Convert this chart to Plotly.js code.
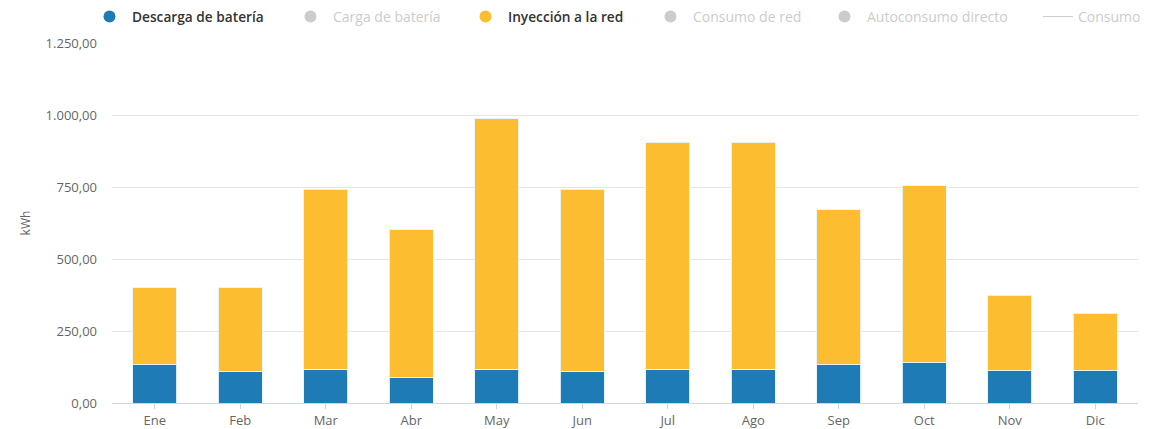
<!DOCTYPE html>
<html>
<head>
<meta charset="utf-8">
<script src="https://cdn.plot.ly/plotly-3.0.1.min.js"></script>
<style>html,body{margin:0;padding:0;background:#fff;}#chart{width:1156px;height:429px;}</style>
</head>
<body>
<div id="chart"></div>
<script>
const months = ["Ene","Feb","Mar","Abr","May","Jun","Jul","Ago","Sep","Oct","Nov","Dic"];
const descargaBateria = [132, 108, 118, 87, 118, 110, 118, 118, 133, 139, 112, 112];
const inyeccionRed   = [269, 293, 625, 515, 869, 633, 787, 787, 538, 616, 262, 199];
const yTicks = [0, 250, 500, 750, 1000, 1250];

const BLUE = "#1f7bb6";
const YELLOW = "#fcbe30";
const GREY = "#cccccc";

const barLine = {color: "rgba(230,245,255,0.9)", width: 1};

const traces = [
  {type: "bar", name: "Descarga de batería", x: months, y: descargaBateria,
   marker: {color: BLUE, line: barLine}, showlegend: false, hoverinfo: "y"},
  {type: "bar", name: "Inyección a la red", x: months, y: inyeccionRed,
   marker: {color: YELLOW, line: barLine}, showlegend: false, hoverinfo: "y"},
  // legend entries
  {type: "scatter", mode: "markers", name: "Descarga de batería", x: [null], y: [null],
   marker: {color: BLUE, size: 12, symbol: "circle"}, legend: "legend"},
  {type: "scatter", mode: "markers", name: "Carga de batería", x: [null], y: [null],
   marker: {color: GREY, size: 12, symbol: "circle"}, legend: "legend2"},
  {type: "scatter", mode: "markers", name: "Inyección a la red", x: [null], y: [null],
   marker: {color: YELLOW, size: 12, symbol: "circle"}, legend: "legend3"},
  {type: "scatter", mode: "markers", name: "Consumo de red", x: [null], y: [null],
   marker: {color: GREY, size: 12, symbol: "circle"}, legend: "legend4"},
  {type: "scatter", mode: "markers", name: "Autoconsumo directo", x: [null], y: [null],
   marker: {color: GREY, size: 12, symbol: "circle"}, legend: "legend5"},
  {type: "scatter", mode: "lines", name: "Consumo", x: [null], y: [null],
   line: {color: GREY, width: 1}, legend: "legend6"}
];

function leg(xpx, dark, iw) {
  return {
    orientation: "h", xref: "container", yref: "container",
    x: xpx / 1156, y: 1 - 1 / 429, xanchor: "left", yanchor: "top",
    bgcolor: "rgba(0,0,0,0)", itemclick: false, itemdoubleclick: false,
    font: {family: "Open Sans, Lato, sans-serif", size: dark ? 13.7 : 14,
           color: dark ? "#333333" : "#cccccc", weight: dark ? 600 : 400},
    itemwidth: iw || 35
  };
}

const layout = {
  width: 1156, height: 429,
  paper_bgcolor: "#ffffff", plot_bgcolor: "#ffffff",
  margin: {l: 112, r: 18, t: 43, b: 26},
  barmode: "stack", bargap: 0.48,
  separators: ",.",
  font: {family: "Open Sans, Lato, sans-serif", color: "#666666", size: 13},
  xaxis: {
    type: "category", tickvals: months, ticktext: months,
    showgrid: false, zeroline: false, showline: true, linecolor: "#ccd6eb", linewidth: 1,
    ticks: "outside", ticklen: 5, tickcolor: "#ccd6eb",
    tickfont: {size: 13, color: "#666666"}, fixedrange: true
  },
  yaxis: {
    range: [0, 1250], tickvals: yTicks, tickformat: ",.2f",
    showgrid: true, gridcolor: "#e6e6e6", gridwidth: 1, zeroline: false,
    showline: false, ticks: "", ticklabelstandoff: 14,
    tickfont: {size: 13, color: "#666666"},
    title: {text: "kWh", font: {size: 12, color: "#666666"}, standoff: 12},
    fixedrange: true
  },
  showlegend: true,
  legend: leg(87, true),
  legend2: leg(288, false),
  legend3: leg(463, true),
  legend4: leg(648, false),
  legend5: leg(822, false),
  legend6: leg(1038, false, 30)
};

Plotly.newPlot("chart", traces, layout, {displayModeBar: false, staticPlot: true});
</script>
</body>
</html>
